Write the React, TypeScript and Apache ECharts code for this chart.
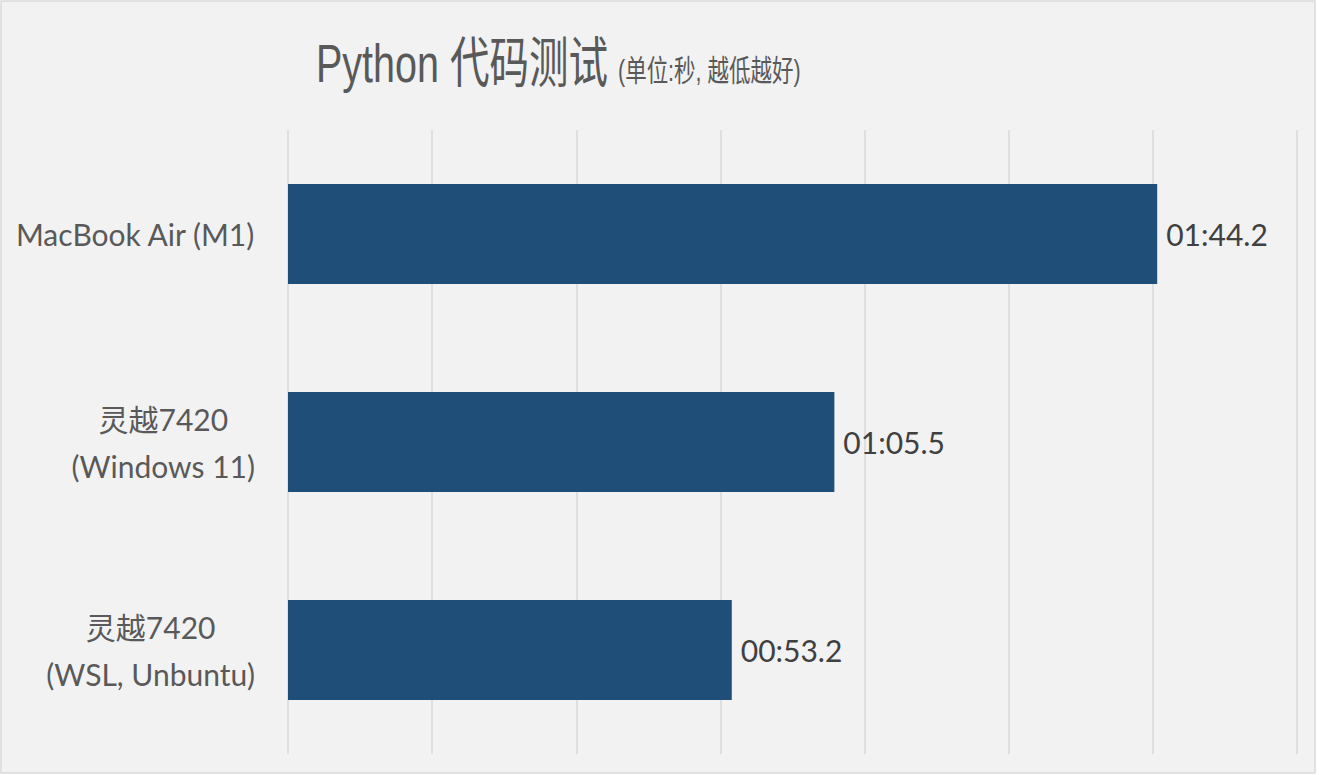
import { useEffect, useRef } from 'react';
import * as echarts from 'echarts';

const categories = ['MacBook Air (M1)', '灵越7420\n(Windows 11)', '灵越7420\n(WSL, Unbuntu)'];
const seconds = [104.2, 65.5, 53.2];
const titleMain = 'Python 代码测试';
const titleSub = '(单位:秒, 越低越好)';
const axisMin = 0;
const axisMax = 120.96;
const axisStep = 17.28;

function fmt(v: number): string {
  const m = Math.floor(v / 60);
  const s = (v - 60 * m).toFixed(1);
  return String(m).padStart(2, '0') + ':' + s.padStart(4, '0');
}

const latinCjk = 'Lato, "Noto Sans CJK SC", sans-serif';
const titleFont = '"Liberation Sans", "Noto Sans CJK SC", sans-serif';

export default function App() {
  const ref = useRef<HTMLDivElement>(null);
  useEffect(() => {
    if (!ref.current) return;
    const chart = echarts.init(ref.current, undefined, { renderer: 'svg' });
    chart.setOption({
      animation: false,
      backgroundColor: '#ffffff',
      graphic: [
        {
          type: 'rect',
          z: -10,
          silent: true,
          shape: { x: 1, y: 1, width: 1314, height: 772 },
          style: { fill: '#f2f2f2', stroke: '#d9d9d9', lineWidth: 1.5 },
        },
        {
          type: 'text',
          x: 316,
          y: 63,
          scaleY: 1.38,
          silent: true,
          style: {
            text: titleMain,
            fontSize: 39.5,
            fontFamily: titleFont,
            fill: '#595959',
            align: 'left',
            verticalAlign: 'middle',
          },
        },
        {
          type: 'text',
          x: 618,
          y: 71,
          scaleY: 1.38,
          silent: true,
          style: {
            text: titleSub,
            fontSize: 21.5,
            fontFamily: titleFont,
            fill: '#595959',
            align: 'left',
            verticalAlign: 'middle',
          },
        },
      ],
      grid: { left: 288, right: 22, top: 130, bottom: 21, containLabel: false },
      xAxis: {
        type: 'value',
        min: axisMin,
        max: axisMax,
        interval: axisStep,
        axisLabel: { show: false },
        axisLine: { show: false },
        axisTick: { show: false },
        splitLine: { show: true, lineStyle: { color: '#d9d9d9', width: 1.5 } },
      },
      yAxis: {
        type: 'category',
        inverse: true,
        data: categories,
        axisLine: { show: false },
        axisTick: { show: false },
        axisLabel: {
          margin: 33,
          formatter: (value: string) =>
            value
              .split('\n')
              .map((l) => `{c|${l}}`)
              .join('\n'),
          rich: {
            c: {
              align: 'center',
              fontSize: 30,
              fontFamily: latinCjk,
              color: '#595959',
              lineHeight: 47,
            },
          },
        },
      },
      series: [
        {
          type: 'bar',
          data: seconds,
          barWidth: '48%',
          itemStyle: { color: '#1f4e79' },
          label: {
            show: true,
            position: 'right',
            distance: 9,
            formatter: (p: any) => fmt(p.value),
            fontSize: 30,
            fontFamily: latinCjk,
            color: '#404040',
          },
        },
      ],
    });
    return () => chart.dispose();
  }, []);
  return (
    <div style={{ position: 'fixed', left: 0, top: 0, width: 1319, height: 775, background: '#fff' }}>
      <div ref={ref} style={{ width: 1319, height: 775 }} />
    </div>
  );
}
